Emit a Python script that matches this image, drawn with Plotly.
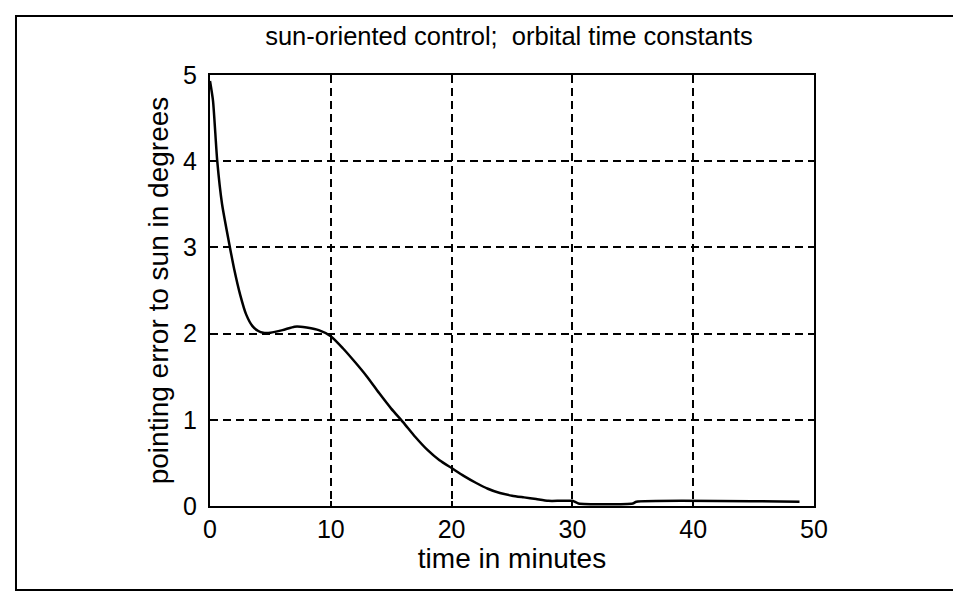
import plotly.graph_objects as go

# pointing error
t_min = [0, 0.25, 0.6, 1.0, 1.65, 2.0, 2.5, 3.0, 3.5, 4.0, 4.4, 5.0, 6.0, 7.0, 7.5,
         8.0, 9.0, 10.0, 11, 12, 13, 14, 15, 16, 17, 18, 19, 20, 21, 22, 23, 24,
         25, 26, 27, 28, 29, 30, 30.5, 35.0, 35.3, 48.8]
err_deg = [4.93, 4.7, 4.0, 3.5, 3.0, 2.75, 2.45, 2.22, 2.09, 2.03, 2.01, 2.01, 2.04,
           2.08, 2.08, 2.07, 2.04, 1.97, 1.83, 1.67, 1.50, 1.31, 1.13, 0.97, 0.80,
           0.65, 0.53, 0.44, 0.35, 0.27, 0.20, 0.15, 0.12, 0.10, 0.08, 0.06, 0.06,
           0.06, 0.03, 0.03, 0.05, 0.05]

x_ticks = [0, 10, 20, 30, 40, 50]
y_ticks = [0, 1, 2, 3, 4, 5]

font = "Liberation Sans, Arial, sans-serif"

fig = go.Figure()
fig.add_scatter(x=t_min, y=err_deg, mode="lines",
                line=dict(color="black", width=2.5, shape="spline", smoothing=0.6),
                showlegend=False)

axis_common = dict(
    showline=True, linecolor="black", linewidth=2, mirror="ticks",
    showgrid=True, gridcolor="black", gridwidth=2, griddash="8px,5px",
    zeroline=False, ticks="inside", ticklen=5, tickcolor="black", tickwidth=1.5,
    tickfont=dict(family=font, size=25, color="black"),
    title_font=dict(family=font, size=28, color="black"),
)

fig.update_xaxes(range=[0, 50], tickvals=x_ticks, title_text="time in minutes",
                 title_standoff=2, **axis_common)
fig.update_yaxes(range=[0, 5], tickvals=y_ticks, ticklabelstandoff=6,
                 title_text="pointing error to sun in degrees",
                 title_standoff=6, **axis_common)

fig.update_layout(
    width=961, height=595,
    margin=dict(l=202, r=155, t=67, b=97),
    paper_bgcolor="white", plot_bgcolor="white",
    title=dict(text="sun-oriented control;  orbital time constants",
               x=0.495, xref="paper", xanchor="center",
               y=0.952, yanchor="middle",
               font=dict(family=font, size=25.5, color="black")),
    shapes=[dict(type="rect", xref="paper", yref="paper",
                 x0=-0.3212, x1=1.2417, y0=-0.1949, y1=1.1369,
                 line=dict(color="black", width=2))],
)

fig.write_html("out.html")
